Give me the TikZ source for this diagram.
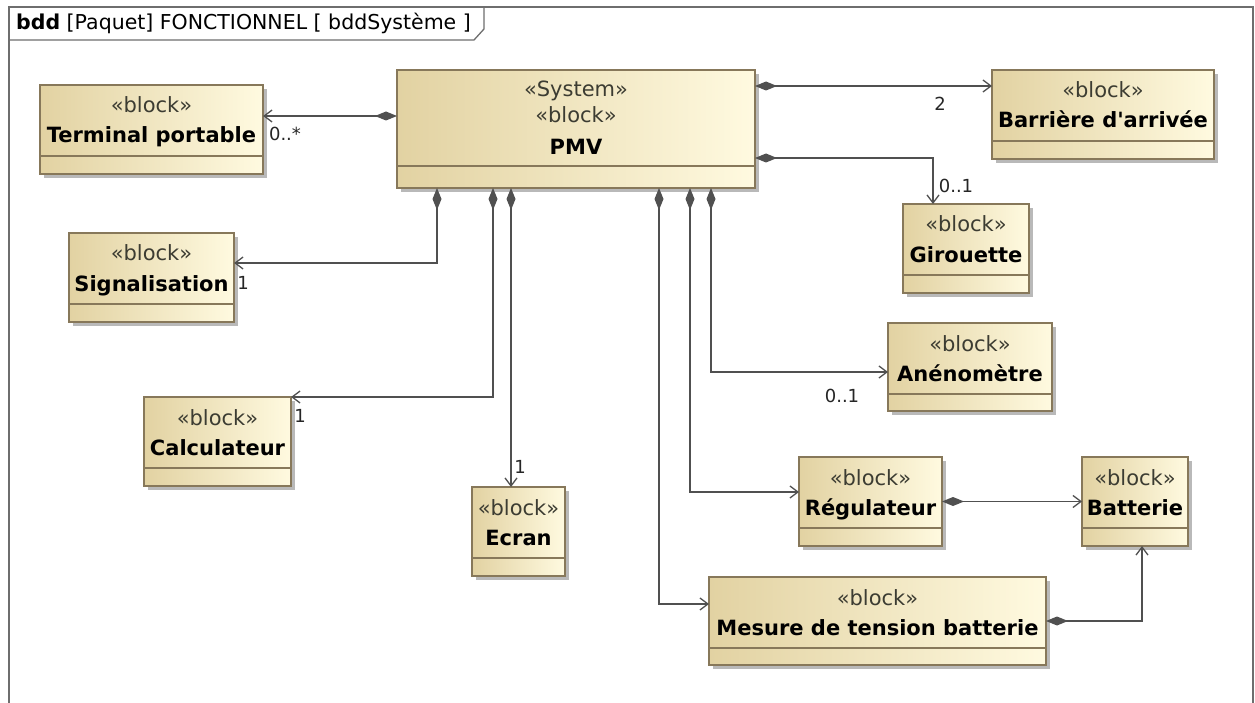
\documentclass[tikz,border=0pt]{standalone}
\usepackage{fontspec}
\setmainfont{DejaVu Sans}[Ligatures=TeXOff]
\usetikzlibrary{arrows.meta,shadows,calc}

\definecolor{blkA}{RGB}{226,210,162}
\definecolor{blkB}{RGB}{255,250,224}
\definecolor{blkline}{RGB}{135,120,90}
\definecolor{shadowgray}{RGB}{185,185,185}
\definecolor{linecol}{RGB}{80,80,80}
\definecolor{stereocol}{RGB}{60,60,50}
\definecolor{framecol}{RGB}{110,110,110}

\tikzset{
  blockbox/.style={draw=blkline, line width=1.2pt, left color=blkA, right color=blkB,
    drop shadow={shadow xshift=4pt, shadow yshift=-4pt, fill=shadowgray, opacity=1},
    inner sep=0pt, outer sep=0pt},
  compline/.style={draw=blkline, line width=1.2pt},
  stereo/.style={font=\fontsize{21}{25}\selectfont, text=stereocol, inner sep=0pt},
  bname/.style={font=\fontsize{21}{25}\selectfont\bfseries, text=black, inner sep=0pt},
  mult/.style={font=\fontsize{18}{22}\selectfont, text=black!85, inner sep=0pt},
  frameline/.style={draw=framecol, line width=1.3pt},
  compo/.style={draw=linecol, line width=1.5pt,
    {Diamond[length=22pt,width=9pt,fill=linecol]}-{Straight Barb[length=8pt,width=12pt,line width=1.3pt]}}
}

% SysML block: name, x1, y1, x2, y2, block name
\newcommand\sysmlblock[6]{%
  \node[blockbox, minimum width={(#4-#2)*1pt}, minimum height={(#5-#3)*1pt}]
    (#1) at ({(#2+#4)/2},{(#3+#5)/2}) {};
  \draw[compline] ([yshift=-71pt]#1.north west) -- ([yshift=-71pt]#1.north east);
  \node[stereo, anchor=base] (#1-st) at ([yshift=-28pt]#1.north) {«block»};
  \node[bname, anchor=base] (#1-nm) at ([yshift=-58pt]#1.north) {#6};
}

\begin{document}
\begin{tikzpicture}[x=1pt,y=-1pt]
\useasboundingbox[fill=white] (0,0) rectangle (1255,703);

% diagram frame and its name tab
\draw[frameline] (9,703) -- (9,7) -- (1253,7) -- (1253,703);
\draw[frameline] (9,40) -- (474,40) -- (484,29) -- (484,7);
\node[anchor=base west, inner sep=0pt, font=\fontsize{20.5}{24}\selectfont] (title) at (16,30)
  {\textbf{bdd} [Paquet] FONCTIONNEL [ bddSystème ]};

% main system block
\node[blockbox, minimum width=358pt, minimum height=118pt] (pmv) at (576,129) {};
\draw[compline] ([yshift=-96pt]pmv.north west) -- ([yshift=-96pt]pmv.north east);
\node[stereo, anchor=base] (pmv-st1) at ([yshift=-27pt]pmv.north) {«System»};
\node[stereo, anchor=base] (pmv-st2) at ([yshift=-53pt]pmv.north) {«block»};
\node[bname, anchor=base] (pmv-nm) at ([yshift=-85pt]pmv.north) {PMV};

% part blocks
\sysmlblock{term}{40}{85}{263}{174}{Terminal portable}
\sysmlblock{barr}{992}{70}{1214}{159}{Barrière d'arrivée}
\sysmlblock{giro}{903}{204}{1029}{293}{Girouette}
\sysmlblock{sig}{69}{233}{234}{322}{Signalisation}
\sysmlblock{calc}{144}{397}{291}{486}{Calculateur}
\sysmlblock{ecran}{472}{487}{565}{576}{Ecran}
\sysmlblock{anem}{888}{323}{1052}{411}{Anénomètre}
\sysmlblock{reg}{799}{457}{942}{546}{Régulateur}
\sysmlblock{batt}{1082}{457}{1188}{546}{Batterie}
\sysmlblock{mes}{709}{577}{1046}{665}{Mesure de tension batterie}

% composition associations
\draw[compo] ([yshift=13pt]pmv.west) -- ([yshift=13pt]pmv.west -| term.east);
\draw[compo] ([yshift=43pt]pmv.east) -- ([yshift=43pt]pmv.east -| barr.west);
\draw[compo] ([yshift=-29pt]pmv.east) -| ([xshift=-33pt]giro.north);
\draw[compo] ([xshift=40pt]pmv.south west) |- ([yshift=14.5pt]sig.east);
\draw[compo] ([xshift=96pt]pmv.south west) |- (calc.north east);
\draw[compo] ([xshift=114pt]pmv.south west) -- ([xshift=114pt]pmv.south west |- ecran.north);
\draw[compo] ([xshift=262pt]pmv.south west) |- ([yshift=17pt]mes.west);
\draw[compo] ([xshift=293pt]pmv.south west) |- ([yshift=9.5pt]reg.west);
\draw[compo] ([xshift=314pt]pmv.south west) |- ([yshift=-5pt]anem.west);
\draw[compo] (reg.east) -- (reg.east -| batt.west);
\draw[compo] (mes.east) -| ([xshift=7pt]batt.south);

% multiplicities
\node[mult] (m-term) at (285,134) {0..*};
\node[mult] (m-barr) at (940,104) {2};
\node[mult] (m-giro) at (956,186) {0..1};
\node[mult] (m-sig) at (243,283) {1};
\node[mult] (m-calc) at (300,416) {1};
\node[mult] (m-ecran) at (520,467) {1};
\node[mult] (m-anem) at (842,396) {0..1};
\end{tikzpicture}
\end{document}
